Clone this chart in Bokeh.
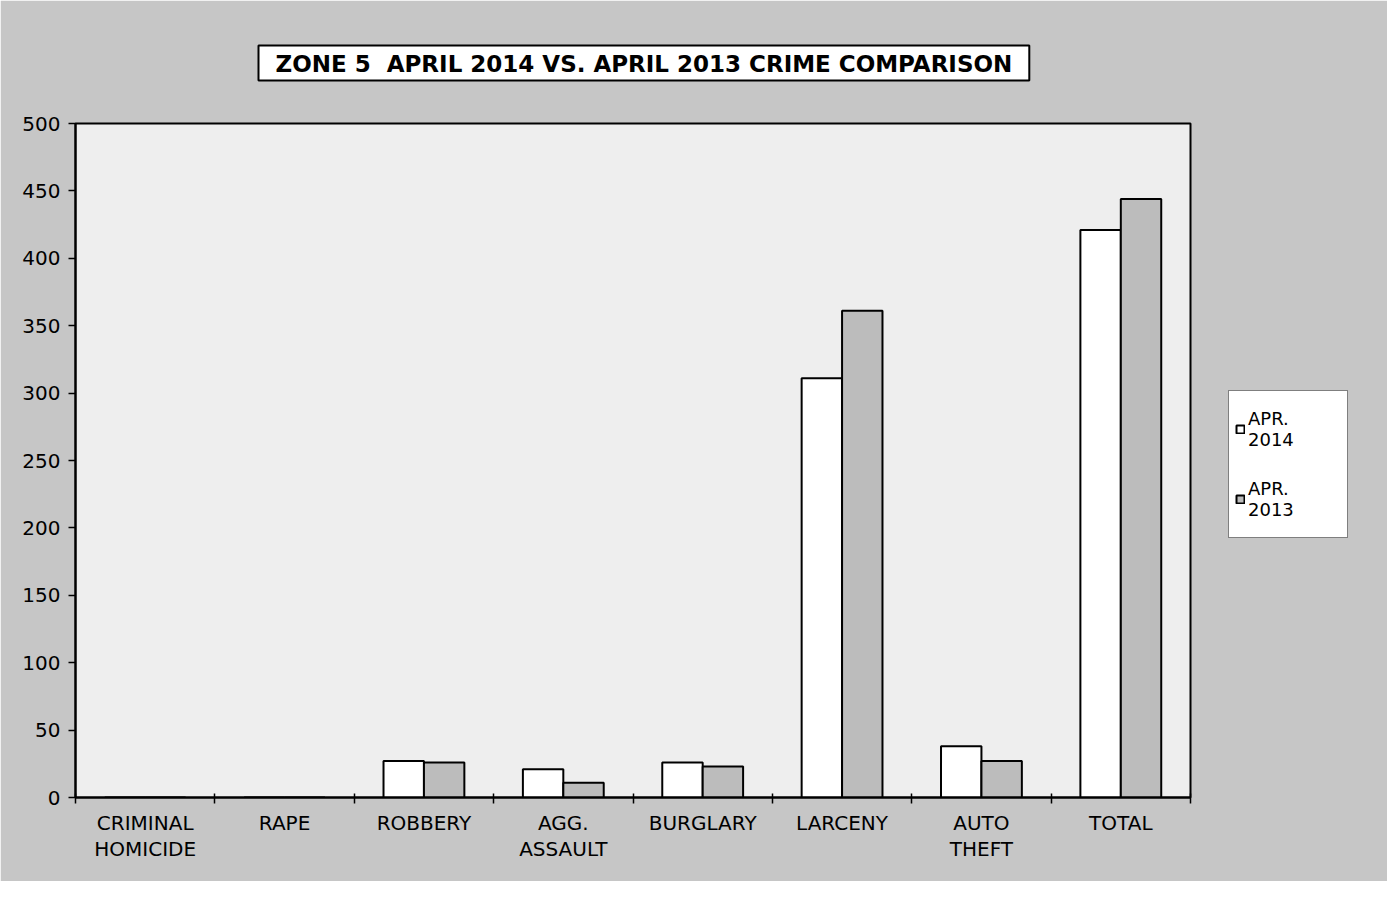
from bokeh.plotting import figure
from bokeh.models import Range1d, FixedTicker, ColumnDataSource, Legend, LegendItem, Title
from bokeh.embed import file_html
from bokeh.resources import INLINE

# ---------------- data ----------------
categories = ["CRIMINAL\nHOMICIDE", "RAPE", "ROBBERY", "AGG.\nASSAULT",
              "BURGLARY", "LARCENY", "AUTO\nTHEFT", "TOTAL"]
apr_2014 = [0, 0, 27, 21, 26, 311, 38, 421]
apr_2013 = [0, 0, 26, 11, 23, 361, 27, 444]
y_ticks = list(range(0, 501, 50))
series_labels = ["APR.\n2014", "APR.\n2013"]
title_text = "ZONE 5\u00a0 APRIL 2014 VS. APRIL 2013 CRIME COMPARISON"

# ---------------- style ----------------
FONT = "DejaVu Sans"
OUTER = "#c6c6c6"
INNER = "#eeeeee"
C2014 = "#ffffff"
C2013 = "#bcbcbc"
BAR_W = 0.29

n = len(categories)
p = figure(frame_width=1115, frame_height=674,
           min_border_left=75, min_border_right=181,
           min_border_top=123, min_border_bottom=84,
           x_range=Range1d(0, n), y_range=Range1d(0, 500),
           title=None,
           output_backend="svg", toolbar_location=None)

p.background_fill_color = INNER
p.border_fill_color = OUTER
p.outline_line_color = "black"
p.outline_line_width = 2
p.xgrid.visible = False
p.ygrid.visible = False

# title (large standoff lifts the boxed title away from the frame)
title = Title(text=title_text, align="left", offset=183, standoff=86,
              text_font=FONT, text_font_size="23px", text_font_style="bold",
              text_color="black", background_fill_color="white",
              border_line_color="black", border_line_width=2,
              padding=dict(left=17, right=17, top=5, bottom=4))
p.add_layout(title, "above")

src = ColumnDataSource(dict(
    xa=[i + 0.5 - BAR_W / 2 for i in range(n)],
    xb=[i + 0.5 + BAR_W / 2 for i in range(n)],
    a=apr_2014, b=apr_2013))
r1 = p.vbar(x="xa", top="a", bottom=0, width=BAR_W, source=src,
            fill_color=C2014, line_color="black", line_width=2)
r2 = p.vbar(x="xb", top="b", bottom=0, width=BAR_W, source=src,
            fill_color=C2013, line_color="black", line_width=2)

# y axis
ya = p.yaxis[0]
ya.ticker = FixedTicker(ticks=y_ticks, minor_ticks=[])
ya.major_tick_out = 7
ya.major_tick_in = 0
ya.minor_tick_out = 0
ya.axis_line_color = "black"
ya.axis_line_width = 2
ya.major_tick_line_width = 1.5
ya.major_label_text_font = FONT
ya.major_label_text_font_size = "20px"
ya.major_label_text_color = "black"
ya.major_label_standoff = 8

# x axis
xa = p.xaxis[0]
centers = [i + 0.5 for i in range(n)]
xa.ticker = FixedTicker(ticks=centers, minor_ticks=list(range(n + 1)))
xa.major_label_overrides = {c: lab for c, lab in zip(centers, categories)}
xa.major_tick_out = 0
xa.major_tick_in = 0
xa.minor_tick_out = 6
xa.minor_tick_in = 4
xa.minor_tick_line_width = 1.5
xa.axis_line_color = "black"
xa.axis_line_width = 2
xa.major_label_text_font = FONT
xa.major_label_text_font_size = "20px"
xa.major_label_text_color = "black"
xa.major_label_text_line_height = 1.1
xa.major_label_standoff = 7

# legend in the right panel
legend = Legend(items=[LegendItem(label=series_labels[0], renderers=[r1]),
                       LegendItem(label=series_labels[1], renderers=[r2])],
                location=(38, 259), margin=0, padding=6, spacing=6,
                glyph_width=10, glyph_height=10, label_standoff=3,
                label_width=93, label_height=64,
                label_text_font=FONT, label_text_font_size="18px",
                label_text_color="black",
                border_line_color="black", border_line_width=1.5,
                background_fill_color="white", background_fill_alpha=1)
p.add_layout(legend, "right")

open("out.html", "w").write(file_html(p, INLINE))
